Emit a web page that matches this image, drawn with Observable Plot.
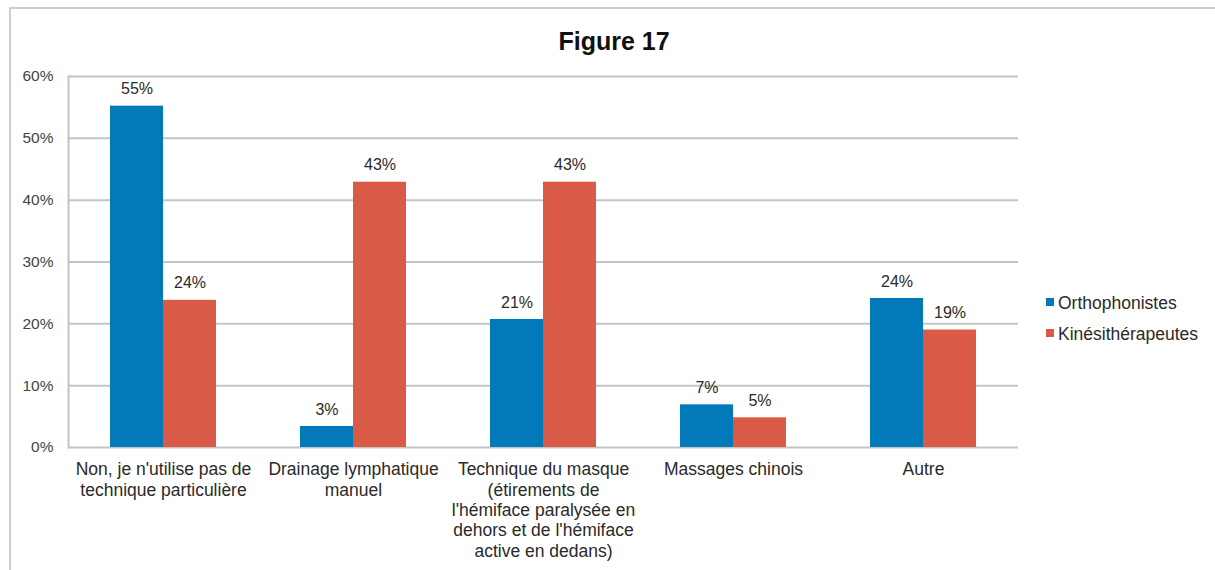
<!DOCTYPE html>
<html>
<head>
<meta charset="utf-8">
<script src="https://cdn.jsdelivr.net/npm/d3@7"></script>
<script src="https://cdn.jsdelivr.net/npm/@observablehq/plot@0.6"></script>
<style>
  html, body { margin: 0; padding: 0; background: #fff; }
  #wrap { position: relative; width: 1215px; height: 570px; overflow: hidden; font-family: "Liberation Sans", Arial, sans-serif; }
  #border { position: absolute; left: 9px; top: 7px; width: 1300px; height: 700px; border: 2px solid #cfcfcf; box-sizing: border-box; }
  #title { position: absolute; left: 464px; width: 300px; top: 26px; text-align: center; font-weight: bold; font-size: 25px; line-height: 30px; color: #111; }
  #chart { position: absolute; left: 0; top: 0; }
  .sw { position: absolute; left: 1046px; width: 8px; height: 8px; }
  .lt { position: absolute; left: 1058px; font-size: 17.5px; line-height: 20px; color: #2a2a2a; white-space: nowrap; }
</style>
</head>
<body>
<div id="wrap">
  <div id="border"></div>
  <div id="title">Figure 17</div>
  <div id="chart"></div>
  <div id="legend"></div>
</div>
<script>
const categories = [
  "Non, je n'utilise pas de\ntechnique particulière",
  "Drainage lymphatique\nmanuel",
  "Technique du masque\n(étirements de\nl'hémiface paralysée en\ndehors et de l'hémiface\nactive en dedans)",
  "Massages chinois",
  "Autre"
];
const series = ["Orthophonistes", "Kinésithérapeutes"];
const orthophonistes = [55.2, 3.4, 20.7, 6.9, 24.1];
const kinesitherapeutes = [23.8, 42.9, 42.9, 4.8, 19.0];
const colors = ["#0279b8", "#d95a46"];
const yTicks = [0, 10, 20, 30, 40, 50, 60];

const data = [];
categories.forEach((c, i) => {
  data.push({cat: c, series: series[0], value: orthophonistes[i]});
  data.push({cat: c, series: series[1], value: kinesitherapeutes[i]});
});

const chart = Plot.plot({
  width: 1215,
  height: 570,
  marginLeft: 67,
  marginRight: 197,
  marginTop: 76,
  marginBottom: 123,
  style: {fontFamily: "'Liberation Sans', Arial, sans-serif", background: "transparent"},
  fx: {domain: categories, padding: 0, label: null},
  x: {domain: series, paddingInner: 0, paddingOuter: 0.76, axis: null},
  y: {domain: [0, 60], label: null},
  color: {domain: series, range: colors},
  marks: [
    Plot.ruleY(yTicks, {stroke: "#c4c4c4", strokeWidth: 2}),
    Plot.barY(data, {fx: "cat", x: "series", y: "value", fill: "series"}),
    Plot.text(data, {fx: "cat", x: "series", y: "value", text: d => Math.round(d.value) + "%", dy: -17, fontSize: 16, fill: "#2a2a2a"}),
    Plot.axisY(yTicks, {tickSize: 0, tickPadding: 15, tickFormat: d => d + "%", fontSize: 15.5, fill: "#444", label: null}),
    Plot.axisFx({tickSize: 0, tickPadding: 13, fontSize: 17.5, fill: "#2a2a2a", lineHeight: 1.17, label: null, anchor: "bottom"}),
    Plot.frame({anchor: "left", stroke: "#c4c4c4", strokeWidth: 2, facet: "super"})
  ]
});
document.getElementById("chart").appendChild(chart);

const legend = document.getElementById("legend");
series.forEach((s, i) => {
  const sw = document.createElement("div");
  sw.className = "sw";
  sw.style.top = (298 + i * 31) + "px";
  sw.style.background = colors[i];
  legend.appendChild(sw);
  const t = document.createElement("div");
  t.className = "lt";
  t.style.top = (293 + i * 31) + "px";
  t.textContent = s;
  legend.appendChild(t);
});
</script>
</body>
</html>
